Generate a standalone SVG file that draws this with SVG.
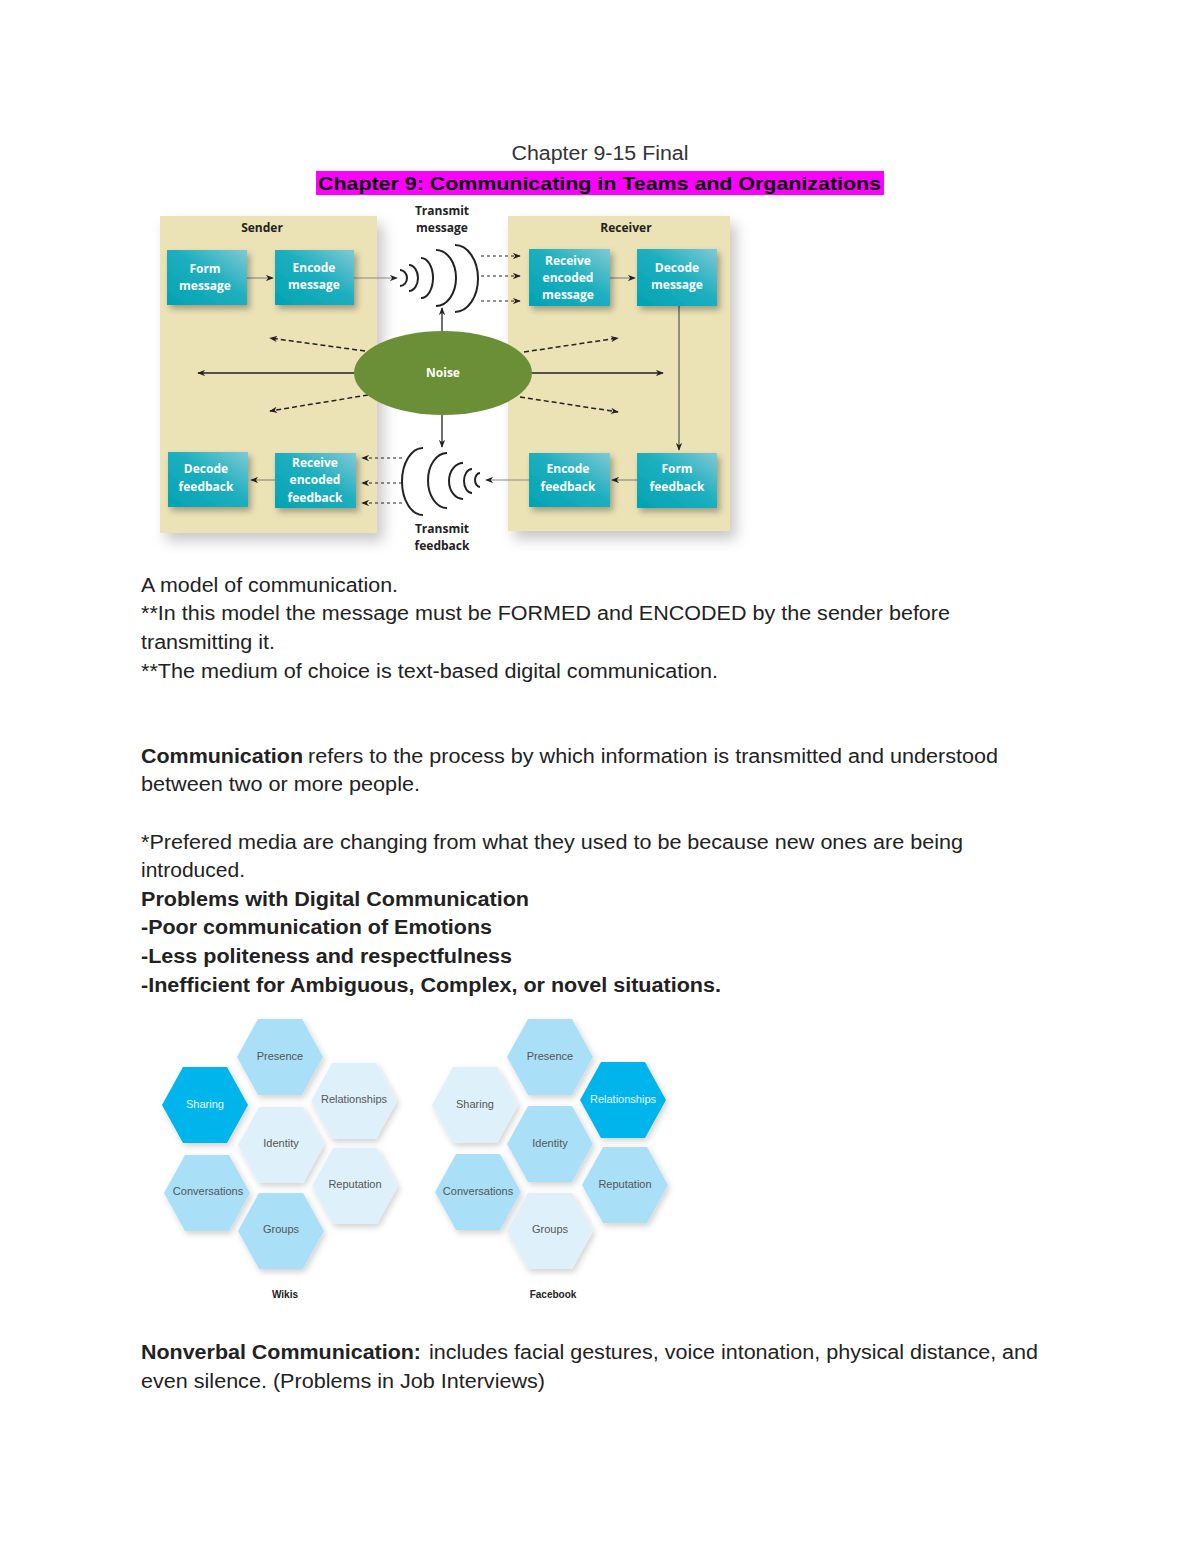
<svg xmlns="http://www.w3.org/2000/svg" xmlns:xlink="http://www.w3.org/1999/xlink" width="1200" height="1553" viewBox="0 0 1200 1553">
<style>
.body{font-family:"Liberation Sans",Arial,sans-serif;font-size:20px;fill:#222}
.b{font-weight:bold}
.box{fill:url(#teal);filter:url(#sh)}
.boxt{font-family:"Open Sans","DejaVu Sans",sans-serif;font-size:12px;font-weight:bold;fill:#fff;text-anchor:middle}
.hdr{font-family:"Open Sans","DejaVu Sans",sans-serif;font-size:12px;font-weight:bold;fill:#222;text-anchor:middle}
.panel{fill:#ebe2b6;filter:url(#psh)}
.gl{stroke:#8a8a80;stroke-width:1.2;fill:none;marker-end:url(#ah)}
.dl{stroke:#222;stroke-width:1.3;fill:none;marker-end:url(#ah)}
.dd{stroke:#222;stroke-width:1.5;stroke-dasharray:5,3;fill:none;marker-end:url(#ah)}
.ds{stroke:#222;stroke-width:1.2;stroke-dasharray:3,3;fill:none;marker-end:url(#ah)}
.wave{stroke:#222;stroke-width:2;fill:none}
.med{fill:#a9dff7;filter:url(#hsh)}
.lt{fill:#def1fb;filter:url(#hsh)}
.br{fill:#00b5ec;filter:url(#hsh)}
.ht{font-family:"Liberation Sans",Arial,sans-serif;font-size:11px;fill:#555;text-anchor:middle}
.hw{font-family:"Liberation Sans",Arial,sans-serif;font-size:11px;fill:#e8f8ff;text-anchor:middle}
.cap{font-family:"Liberation Sans",Arial,sans-serif;font-size:10px;font-weight:bold;fill:#222;text-anchor:middle}
</style>
<defs>
<linearGradient id="teal" x1="0" y1="1" x2="1" y2="0">
<stop offset="0" stop-color="#00a3b4"/>
<stop offset="0.55" stop-color="#1eafbf"/>
<stop offset="1" stop-color="#80cad5"/>
</linearGradient>
<filter id="sh" x="-20%" y="-20%" width="150%" height="160%">
<feDropShadow dx="3" dy="4" stdDeviation="3" flood-color="#000" flood-opacity="0.3"/>
</filter>
<filter id="psh" x="-20%" y="-20%" width="150%" height="150%">
<feDropShadow dx="6" dy="8" stdDeviation="7" flood-color="#000" flood-opacity="0.22"/>
</filter>
<filter id="hsh" x="-20%" y="-20%" width="150%" height="150%">
<feDropShadow dx="2" dy="3" stdDeviation="3" flood-color="#000" flood-opacity="0.18"/>
</filter>
<marker id="ah" viewBox="0 0 10 8" refX="9" refY="4" markerWidth="8" markerHeight="6.4" markerUnits="userSpaceOnUse" orient="auto">
<path d="M0,0 L10,4 L0,8 L3,4 z" fill="#222"/>
</marker>
<polygon id="hex" points="-43,0 -22,-38 22,-38 43,0 22,38 -22,38"/>
</defs>
<rect width="1200" height="1553" fill="#fff"/>

<g id="title">
<text x="600" y="160" text-anchor="middle" style="font-family:'Liberation Sans',Arial,sans-serif;font-size:20px;fill:#333" textLength="177" lengthAdjust="spacingAndGlyphs">Chapter 9-15 Final</text>
<rect x="316" y="171" width="568" height="24" fill="#ff00ff"/>
<text x="318" y="190" class="body b" style="font-size:19px;fill:#000" textLength="563" lengthAdjust="spacingAndGlyphs">Chapter 9: Communicating in Teams and Organizations</text>
</g>

<g id="panels">
<rect class="panel" x="160" y="216" width="217" height="317"/>
<rect class="panel" x="508" y="216" width="222" height="315"/>
<text class="hdr" x="262" y="232">Sender</text>
<text class="hdr" x="626" y="232">Receiver</text>
<text class="hdr" x="442" y="215">Transmit</text>
<text class="hdr" x="442" y="232">message</text>
<text class="hdr" x="442" y="533">Transmit</text>
<text class="hdr" x="442" y="550">feedback</text>
</g>

<g id="connectors">
<line class="gl" x1="247" y1="278" x2="273" y2="278"/>
<line class="gl" x1="354" y1="278" x2="397" y2="278"/>
<line class="gl" x1="610" y1="278" x2="635" y2="278"/>
<line class="gl" x1="679" y1="306" x2="679" y2="450" style="stroke:#555"/>
<line class="gl" x1="637" y1="480" x2="612" y2="480"/>
<line class="gl" x1="529" y1="480" x2="486" y2="480"/>
<line class="gl" x1="275" y1="480" x2="251" y2="480"/>
<line class="dl" x1="442" y1="332" x2="442" y2="308"/>
<line class="dl" x1="442" y1="415" x2="442" y2="447"/>
<line class="dl" x1="356" y1="373" x2="198" y2="373"/>
<line class="dl" x1="530" y1="373" x2="663" y2="373"/>
<line class="dd" x1="365" y1="351" x2="270" y2="338"/>
<line class="dd" x1="368" y1="395" x2="270" y2="411"/>
<line class="dd" x1="524" y1="352" x2="618" y2="338"/>
<line class="dd" x1="520" y1="397" x2="618" y2="412"/>
<line class="ds" x1="481" y1="256" x2="520" y2="256"/>
<line class="ds" x1="481" y1="276" x2="520" y2="276"/>
<line class="ds" x1="481" y1="301" x2="520" y2="301"/>
<line class="ds" x1="402" y1="458" x2="362" y2="458"/>
<line class="ds" x1="402" y1="483" x2="362" y2="483"/>
<line class="ds" x1="402" y1="503" x2="362" y2="503"/>
<path class="wave" d="M400,270 A7,8 0 0 1 400,286"/>
<path class="wave" d="M409,265 A9,13 0 0 1 409,291"/>
<path class="wave" d="M421,258 A12,20 0 0 1 421,298"/>
<path class="wave" d="M436,250 A20,28 0 0 1 436,306"/>
<path class="wave" d="M455,245 A23,33.5 0 0 1 455,312"/>
<path class="wave" d="M423,448 A21,33.5 0 0 0 423,515"/>
<path class="wave" d="M447,453 A19,27.5 0 0 0 447,508"/>
<path class="wave" d="M463,463 A14,18 0 0 0 463,499"/>
<path class="wave" d="M472,469 A8,12 0 0 0 472,493"/>
<path class="wave" d="M480,473 A5,7 0 0 0 480,487"/>
</g>

<g id="noise">
<ellipse cx="443" cy="373" rx="89" ry="42" fill="#6a8f36"/>
<text class="boxt" x="443" y="377">Noise</text>
</g>

<g id="form-message"><rect class="box" x="167" y="250" width="80" height="55"/><text class="boxt" x="205" y="273">Form</text><text class="boxt" x="205" y="290">message</text></g>
<g id="encode-message"><rect class="box" x="275" y="250" width="79" height="55"/><text class="boxt" x="314" y="272">Encode</text><text class="boxt" x="314" y="289">message</text></g>
<g id="receive-encoded-message"><rect class="box" x="529" y="249" width="81" height="57"/><text class="boxt" x="568" y="265">Receive</text><text class="boxt" x="568" y="282">encoded</text><text class="boxt" x="568" y="299">message</text></g>
<g id="decode-message"><rect class="box" x="637" y="249" width="80" height="57"/><text class="boxt" x="677" y="272">Decode</text><text class="boxt" x="677" y="289">message</text></g>
<g id="decode-feedback"><rect class="box" x="168" y="452" width="80" height="55"/><text class="boxt" x="206" y="473">Decode</text><text class="boxt" x="206" y="491">feedback</text></g>
<g id="receive-encoded-feedback"><rect class="box" x="275" y="453" width="81" height="55"/><text class="boxt" x="315" y="467">Receive</text><text class="boxt" x="315" y="484">encoded</text><text class="boxt" x="315" y="502">feedback</text></g>
<g id="encode-feedback"><rect class="box" x="529" y="453" width="81" height="54"/><text class="boxt" x="568" y="473">Encode</text><text class="boxt" x="568" y="491">feedback</text></g>
<g id="form-feedback"><rect class="box" x="637" y="453" width="80" height="55"/><text class="boxt" x="677" y="473">Form</text><text class="boxt" x="677" y="491">feedback</text></g>

<g id="body-text-1">
<text class="body" x="141" y="592" textLength="257" lengthAdjust="spacingAndGlyphs">A model of communication.</text>
<text class="body" x="141" y="620" textLength="809" lengthAdjust="spacingAndGlyphs">**In this model the message must be FORMED and ENCODED by the sender before</text>
<text class="body" x="141" y="649" textLength="134" lengthAdjust="spacingAndGlyphs">transmitting it.</text>
<text class="body" x="141" y="678" textLength="577" lengthAdjust="spacingAndGlyphs">**The medium of choice is text-based digital communication.</text>
<text class="body b" x="141" y="763" textLength="162" lengthAdjust="spacingAndGlyphs">Communication</text>
<text class="body" x="308" y="763" textLength="690" lengthAdjust="spacingAndGlyphs">refers to the process by which information is transmitted and understood</text>
<text class="body" x="141" y="791" textLength="279" lengthAdjust="spacingAndGlyphs">between two or more people.</text>
<text class="body" x="141" y="849" textLength="822" lengthAdjust="spacingAndGlyphs">*Prefered media are changing from what they used to be because new ones are being</text>
<text class="body" x="141" y="877" textLength="104" lengthAdjust="spacingAndGlyphs">introduced.</text>
<text class="body b" x="141" y="906" textLength="388" lengthAdjust="spacingAndGlyphs">Problems with Digital Communication</text>
<text class="body b" x="141" y="934" textLength="351" lengthAdjust="spacingAndGlyphs">-Poor communication of Emotions</text>
<text class="body b" x="141" y="963" textLength="371" lengthAdjust="spacingAndGlyphs">-Less politeness and respectfulness</text>
<text class="body b" x="141" y="992" textLength="580" lengthAdjust="spacingAndGlyphs">-Inefficient for Ambiguous, Complex, or novel situations.</text>
</g>

<g id="wikis">
<g id="w-presence"><use xlink:href="#hex" href="#hex" x="280" y="1057" class="med"/><text class="ht" x="280" y="1060">Presence</text></g>
<g id="w-sharing"><use xlink:href="#hex" href="#hex" x="205" y="1105" class="br"/><text class="hw" x="205" y="1108">Sharing</text></g>
<g id="w-relationships"><use xlink:href="#hex" href="#hex" x="354" y="1101" class="lt"/><text class="ht" x="354" y="1103">Relationships</text></g>
<g id="w-identity"><use xlink:href="#hex" href="#hex" x="281" y="1145" class="lt"/><text class="ht" x="281" y="1147">Identity</text></g>
<g id="w-conversations"><use xlink:href="#hex" href="#hex" x="207" y="1193" class="med"/><text class="ht" x="208" y="1195">Conversations</text></g>
<g id="w-reputation"><use xlink:href="#hex" href="#hex" x="355" y="1186" class="lt"/><text class="ht" x="355" y="1188">Reputation</text></g>
<g id="w-groups"><use xlink:href="#hex" href="#hex" x="281" y="1231" class="med"/><text class="ht" x="281" y="1233">Groups</text></g>
<text class="cap" x="285" y="1298">Wikis</text>
</g>

<g id="facebook">
<g id="f-presence"><use xlink:href="#hex" href="#hex" x="550" y="1057" class="med"/><text class="ht" x="550" y="1060">Presence</text></g>
<g id="f-sharing"><use xlink:href="#hex" href="#hex" x="475" y="1105" class="lt"/><text class="ht" x="475" y="1108">Sharing</text></g>
<g id="f-relationships"><use xlink:href="#hex" href="#hex" x="623" y="1100" class="br"/><text class="hw" x="623" y="1103">Relationships</text></g>
<g id="f-identity"><use xlink:href="#hex" href="#hex" x="550" y="1144" class="med"/><text class="ht" x="550" y="1147">Identity</text></g>
<g id="f-conversations"><use xlink:href="#hex" href="#hex" x="478" y="1192" class="med"/><text class="ht" x="478" y="1195">Conversations</text></g>
<g id="f-reputation"><use xlink:href="#hex" href="#hex" x="625" y="1185" class="med"/><text class="ht" x="625" y="1188">Reputation</text></g>
<g id="f-groups"><use xlink:href="#hex" href="#hex" x="550" y="1231" class="lt"/><text class="ht" x="550" y="1233">Groups</text></g>
<text class="cap" x="553" y="1298">Facebook</text>
</g>

<g id="body-text-2">
<text class="body b" x="141" y="1359" textLength="280" lengthAdjust="spacingAndGlyphs">Nonverbal Communication:</text>
<text class="body" x="429" y="1359" textLength="609" lengthAdjust="spacingAndGlyphs">includes facial gestures, voice intonation, physical distance, and</text>
<text class="body" x="141" y="1388" textLength="404" lengthAdjust="spacingAndGlyphs">even silence. (Problems in Job Interviews)</text>
</g>
</svg>
